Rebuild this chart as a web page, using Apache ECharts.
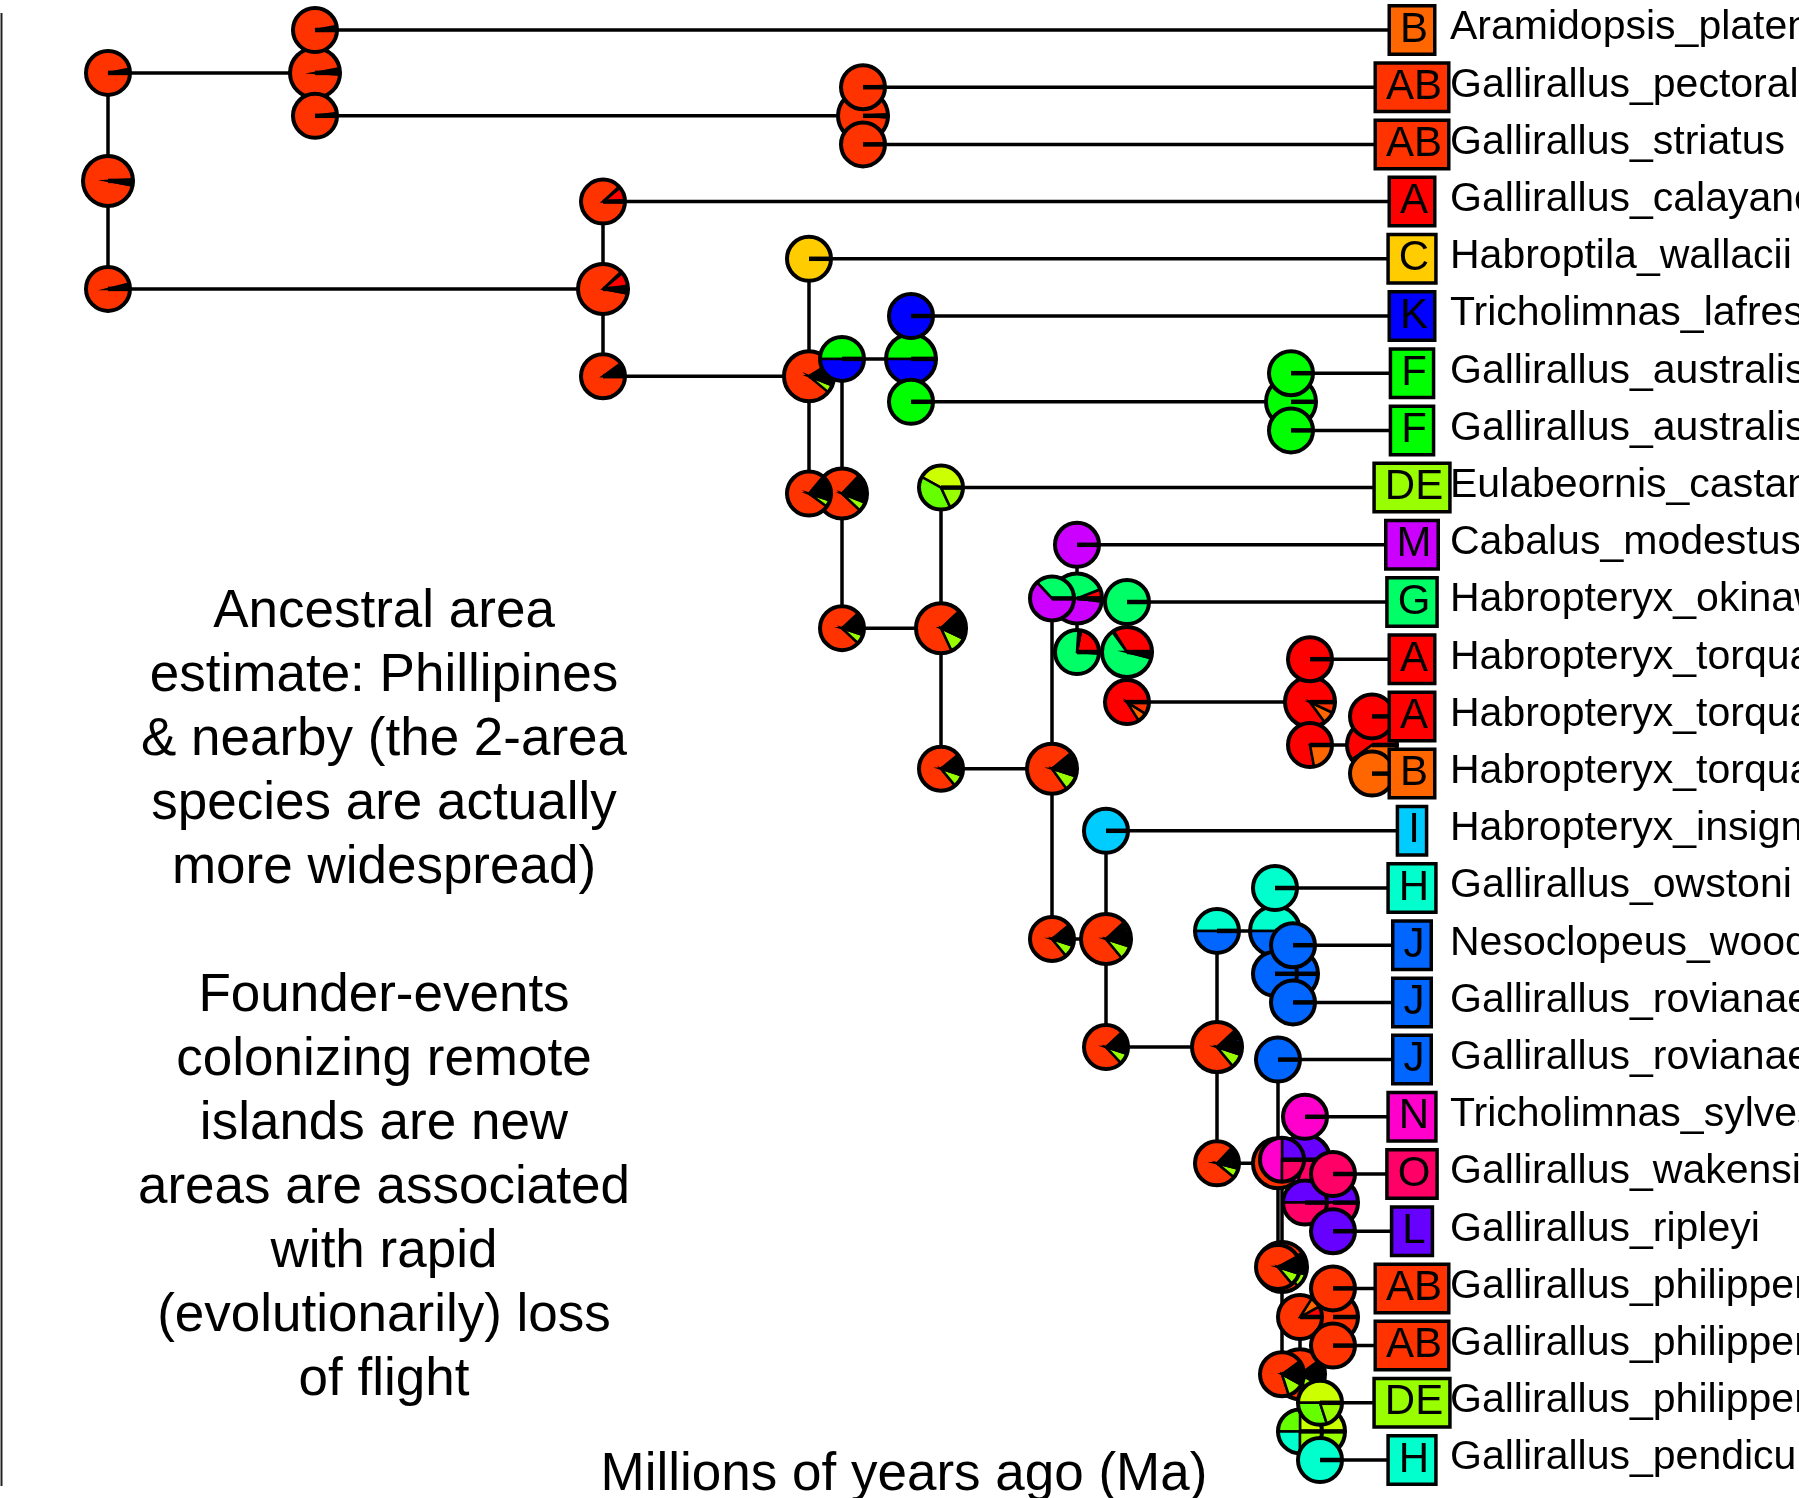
<!DOCTYPE html>
<html>
<head>
<meta charset="utf-8">
<title>Ancestral areas</title>
<script src="https://cdn.jsdelivr.net/npm/echarts@6/dist/echarts.min.js"></script>
<style>
    html, body { margin: 0; padding: 0; background: #ffffff; }
    #main { width: 1799px; height: 1498px; }
</style>
</head>
<body>
<div id="main"></div>
<script>
// tips, top to bottom (row = index)
var tipNames = [
    'Aramidopsis_plateni', 'Gallirallus_pectoralis', 'Gallirallus_striatus', 'Gallirallus_calayanensis',
    'Habroptila_wallacii', 'Tricholimnas_lafresnayanus', 'Gallirallus_australis', 'Gallirallus_australis',
    'Eulabeornis_castaneoventris', 'Cabalus_modestus', 'Habropteryx_okinawae', 'Habropteryx_torquatus',
    'Habropteryx_torquatus', 'Habropteryx_torquatus', 'Habropteryx_insignis', 'Gallirallus_owstoni',
    'Nesoclopeus_woodfordi', 'Gallirallus_rovianae', 'Gallirallus_rovianae', 'Tricholimnas_sylvestris',
    'Gallirallus_wakensis', 'Gallirallus_ripleyi', 'Gallirallus_philippensis', 'Gallirallus_philippensis',
    'Gallirallus_philippensis', 'Gallirallus_pendiculentus'
];
var tipRanges = ['B', 'AB', 'AB', 'A', 'C', 'K', 'F', 'F', 'DE', 'M', 'G', 'A', 'A', 'B', 'I', 'H',
    'J', 'J', 'J', 'N', 'O', 'L', 'AB', 'AB', 'DE', 'H'];

// internal nodes in preorder, ages in Ma before present (tips = 0)
var nodeNames = ['root', 'A', 'C', 'B', 'D', 'F', 'G', 'I', 'H', 'J', 'K', 'L', 'M', 'N', 'O', 'P',
    'Q', 'Q2', 'R', 'R1', 'S', 'S2', 'T', 'T1', 'T2'];
var nodeAges = [13.02, 10.95, 5.47, 8.07, 6.01, 5.68, 4.99, 1.19, 4.69, 3.58, 3.33, 2.83, 1.00, 0.38, 3.04, 1.93,
    1.35, 1.17, 1.32, 1.28, 1.05, 0.77, 1.10, 0.77, 0.90];
var nodeKids = [['A', 'B'], ['t0', 'C'], ['t1', 't2'], ['t3', 'D'], ['t4', 'F'], ['G', 'H'], ['t5', 'I'],
    ['t6', 't7'], ['t8', 'J'], ['K', 'O'], ['t9', 'L'], ['t10', 'M'], ['t11', 'N'], ['t12', 't13'],
    ['t14', 'P'], ['Q', 'R'], ['t15', 'Q2'], ['t16', 't17'], ['t18', 'R1'], ['S', 'T'], ['t19', 'S2'],
    ['t20', 't21'], ['T1', 'T2'], ['t22', 't23'], ['t24', 't25']];

// range probabilities (%), counterclockwise from 3 o'clock; x = many tiny ranges
var nodePies = ['x1 AB96 x3', 'x3 AB96 x1', 'x1 AB98 x1', 'x2 A9 x1 AB85 x3', 'x6 C1 x2 AB80 DE5 x6',
    'x11 A1 x1 AB75 DE6 x6', 'F50 K50', 'F100', 'x12 AB70 DE11 x7', 'x11 AB74 DE10 x5', 'A6 G38 M54 x2',
    'A34 x1 G61 x4', 'A85 B8 AB7', 'A60 B40', 'x5 I2 x5 AB74 DE9 x5', 'x4 J2 x6 AB74 DE9 x5', 'H50 J50',
    'J100', 'x8 AB80 DE7 x5', 'x10 AB76 DE9 x5', 'L40 N30 O30', 'L50 O50', 'x10 AB70 DE12 x8', 'AB100',
    'D45 E15 H15 DE25'];
var upperPies = ['x3 AB97', 'x3 AB97', 'x1 AB99', 'x1 A10 x1 AB88', 'C100', 'F50 K50', 'K100', 'F100',
    'D42 E40 DE18', 'G37 M63', 'M100', 'G100', 'A100', 'A100', 'I100', 'H50 J50', 'H100', 'J100', 'J100',
    'L25 N50 O25', 'N100', 'O100', 'A8 B8 AB84', 'AB100', 'D50 E30 DE20'];
var lowerPies = ['x4 AB96', 'x2 AB98', 'x1 AB99', 'x3 C2 x3 DE1 x1 AB90', 'x14 AB76 DE5 x5',
    'x12 AB76 DE7 x5', 'F100', 'F100', 'x11 AB75 DE9 x5', 'x5 I2 x4 AB75 DE9 x5', 'A22 x1 B1 G75 x1',
    'A84 B7 AB9', 'A78 B22', 'B100', 'x5 J1 x6 AB75 DE8 x5', 'x8 J1 x4 AB76 DE7 x4', 'J100', 'J100',
    'x8 AB78 DE9 x5', 'x10 AB70 DE12 x8', 'L50 O50', 'L100', 'D25 E25 H25 DE25', 'AB100', 'H100'];

var noteLines = ['Ancestral area', 'estimate: Phillipines', '& nearby (the 2-area', 'species are actually',
    'more widespread)', '', 'Founder-events', 'colonizing remote', 'islands are new',
    'areas are associated', 'with rapid', '(evolutionarily) loss', 'of flight'];

var rangeColors = {
    A: '#FF0000', B: '#FF6600', AB: '#FF3300', C: '#FFCC00', D: '#CCFF00', E: '#66FF00', DE: '#99FF00',
    F: '#00FF00', G: '#00FF66', H: '#00FFCC', I: '#00CCFF', J: '#0066FF', K: '#0000FF', L: '#6600FF',
    M: '#CC00FF', N: '#FF00CC', O: '#FF0066', x: '#000000'
};
var FONT = '"Liberation Sans", Arial, Helvetica, sans-serif';

var nodeIndex = {};
nodeNames.forEach(function (n, i) { nodeIndex[n] = i; });
function isTip(key) { return /^t\d+$/.test(key); }
// ape style: node row = mean of its children's rows
function rowOf(key) {
    if (isTip(key)) return +key.slice(1);
    var kids = nodeKids[nodeIndex[key]];
    return (rowOf(kids[0]) + rowOf(kids[1])) / 2;
}
function ageOf(key) { return isTip(key) ? 0 : nodeAges[nodeIndex[key]]; }
function parsePie(str) {
    return str.split(' ').map(function (s) {
        var m = s.match(/^([A-Za-z]+)(\d+(?:\.\d+)?)$/);
        return [m[1], +m[2]];
    });
}

// data for the series
var branchData = [];
var nodePieData = [];
var cornerPieData = [];
nodeNames.forEach(function (n, i) {
    var k = nodeKids[i];
    var age = nodeAges[i];
    branchData.push([age, rowOf(n), rowOf(k[0]), rowOf(k[1]), ageOf(k[0]), ageOf(k[1])]);
    nodePieData.push([age, rowOf(n), i]);
    cornerPieData.push([age, rowOf(k[0]), i, 0]);
    cornerPieData.push([age, rowOf(k[1]), i, 1]);
});
var tipData = tipNames.map(function (name, i) { return [0, i, i]; });

function blackLine(x1, y1, x2, y2, w) {
    return { type: 'line', shape: { x1: x1, y1: y1, x2: x2, y2: y2 }, style: { stroke: '#000', lineWidth: w } };
}

function renderBranches(params, api) {
    var up = api.coord([api.value(0), api.value(2)]);
    var lo = api.coord([api.value(0), api.value(3)]);
    var upEnd = api.coord([api.value(4), api.value(2)]);
    var loEnd = api.coord([api.value(5), api.value(3)]);
    return {
        type: 'group',
        children: [
            blackLine(up[0], up[1], lo[0], lo[1], 3.5),
            blackLine(up[0], up[1], upEnd[0], upEnd[1], 3.5),
            blackLine(lo[0], lo[1], loEnd[0], loEnd[1], 3.5)
        ]
    };
}

function pieGroup(c, r, slices) {
    var total = 0;
    slices.forEach(function (s) { total += s[1]; });
    var children = [];
    var a = 0;
    slices.forEach(function (s) {
        var a1 = a + s[1] / total * Math.PI * 2;
        children.push({
            type: 'sector',
            shape: { cx: c[0], cy: c[1], r0: 0, r: r, startAngle: -a1, endAngle: -a, clockwise: true },
            style: { fill: rangeColors[s[0]], stroke: '#000', lineWidth: 2.5 }
        });
        a = a1;
    });
    children.push(blackLine(c[0], c[1], c[0] + r, c[1], 4.5));
    children.push({
        type: 'circle',
        shape: { cx: c[0], cy: c[1], r: r },
        style: { fill: 'none', stroke: '#000', lineWidth: 4 }
    });
    return { type: 'group', children: children };
}

function renderNodePie(params, api) {
    var c = api.coord([api.value(0), api.value(1)]);
    return pieGroup(c, 25, parsePie(nodePies[api.value(2)]));
}

function renderCornerPie(params, api) {
    var c = api.coord([api.value(0), api.value(1)]);
    var list = api.value(3) === 0 ? upperPies : lowerPies;
    return pieGroup(c, 22, parsePie(list[api.value(2)]));
}

function renderTip(params, api) {
    var i = api.value(2);
    var c = api.coord([api.value(0), api.value(1)]);
    return {
        type: 'group',
        children: [
            {
                type: 'text',
                x: c[0] + 2,
                y: c[1],
                style: {
                    text: tipRanges[i], font: '42px ' + FONT, fill: '#000',
                    align: 'center', verticalAlign: 'middle', lineHeight: 40,
                    backgroundColor: rangeColors[tipRanges[i]], borderColor: '#000', borderWidth: 3.5,
                    padding: [3, 5, 2, 9]
                }
            },
            {
                type: 'text',
                x: c[0] + 40,
                y: c[1] - 2,
                style: { text: tipNames[i], font: '41px ' + FONT, fill: '#000', align: 'left', verticalAlign: 'middle' }
            }
        ]
    };
}

var chart = echarts.init(document.getElementById('main'), null, { renderer: 'canvas' });
var option = {
    backgroundColor: '#ffffff',
    animation: false,
    grid: { left: 10, right: 389, top: 30, bottom: 38 },
    xAxis: { type: 'value', min: 0, max: 14, inverse: true, show: false },
    yAxis: { type: 'value', min: 0, max: 25, inverse: true, show: false },
    graphic: [
        { type: 'line', shape: { x1: 1.5, y1: 13, x2: 1.5, y2: 1486 }, style: { stroke: '#222', lineWidth: 2 } },
        {
            type: 'text', x: 384, y: 580,
            style: { text: noteLines.join('\n'), font: '53px ' + FONT, lineHeight: 64, align: 'center', verticalAlign: 'top', fill: '#000' }
        },
        {
            type: 'text', x: 904, y: 1475,
            style: { text: 'Millions of years ago (Ma)', font: '53px ' + FONT, align: 'center', verticalAlign: 'middle', fill: '#000' }
        }
    ],
    series: [
        { type: 'custom', name: 'branches', clip: false, z: 1, renderItem: renderBranches, data: branchData },
        { type: 'custom', name: 'node pies', clip: false, z: 2, renderItem: renderNodePie, data: nodePieData },
        { type: 'custom', name: 'corner pies', clip: false, z: 3, renderItem: renderCornerPie, data: cornerPieData },
        { type: 'custom', name: 'tips', clip: false, z: 4, renderItem: renderTip, data: tipData }
    ]
};
chart.setOption(option);
</script>
</body>
</html>
